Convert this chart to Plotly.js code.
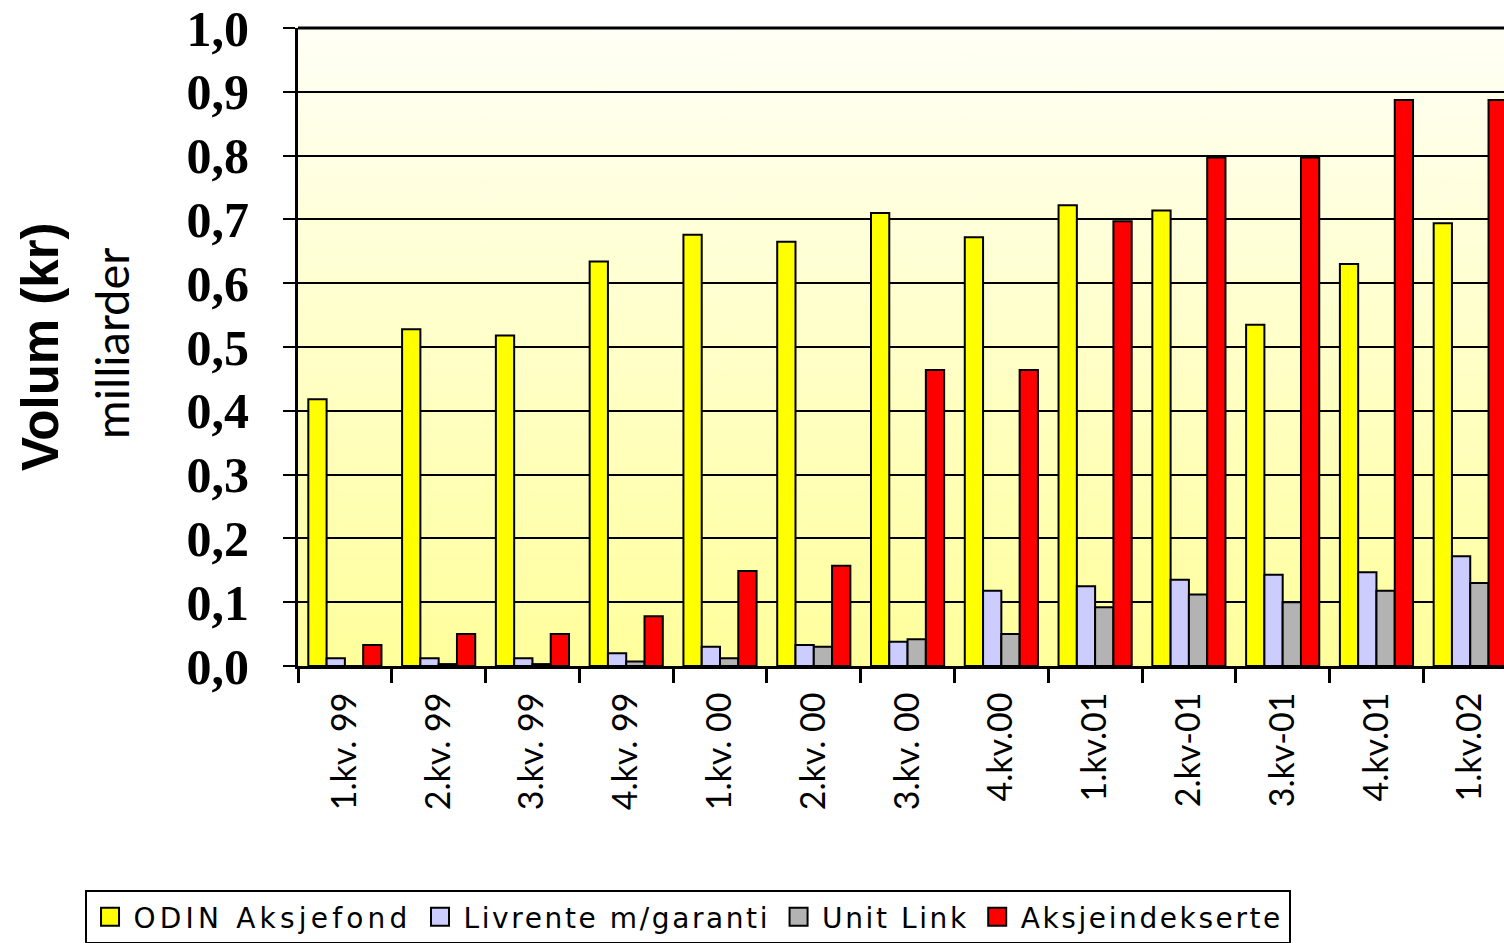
<!DOCTYPE html>
<html>
<head>
<meta charset="utf-8">
<script src="https://cdn.plot.ly/plotly-3.0.1.min.js"></script>
<style>html,body{margin:0;padding:0;background:#fff;}#chart{width:1504px;height:943px;}</style>
</head>
<body>
<div id="chart"></div>
<script>
var categories = ["1.kv. 99", "2.kv. 99", "3.kv. 99", "4.kv. 99", "1.kv. 00", "2.kv. 00", "3.kv. 00", "4.kv.00", "1.kv.01", "2.kv-01", "3.kv-01", "4.kv.01", "1.kv.02"];
var odin = [0.418, 0.528, 0.518, 0.634, 0.676, 0.665, 0.710, 0.672, 0.722, 0.714, 0.535, 0.630, 0.694];
var livrente = [0.012, 0.012, 0.012, 0.020, 0.030, 0.033, 0.038, 0.118, 0.125, 0.135, 0.143, 0.147, 0.172];
var unitLink = [0.000, 0.003, 0.003, 0.007, 0.012, 0.030, 0.042, 0.050, 0.092, 0.112, 0.100, 0.118, 0.130];
var aksjeindekserte = [0.033, 0.050, 0.050, 0.078, 0.149, 0.157, 0.464, 0.464, 0.697, 0.797, 0.797, 0.887, 0.887];
var seriesNames = ["ODIN Aksjefond", "Livrente m/garanti", "Unit Link", "Aksjeindekserte"];
var yTickVals = [0, 0.1, 0.2, 0.3, 0.4, 0.5, 0.6, 0.7, 0.8, 0.9, 1.0];

// background gradient image
var cv = document.createElement('canvas');
cv.width = 10; cv.height = 400;
var ctx = cv.getContext('2d');
var g = ctx.createLinearGradient(0, 0, 0, 400);
g.addColorStop(0, '#fffff6');
g.addColorStop(1, '#ffff9c');
ctx.fillStyle = g; ctx.fillRect(0, 0, 10, 400);
var bgUrl = cv.toDataURL();

var colors = ['#ffff00', '#ccccff', '#b3b3b3', '#ff0000'];
var spacing = ['4.2px', '2.6px', '2.6px', '2.6px'];
var vals = [odin, livrente, unitLink, aksjeindekserte];
var data = vals.map(function (v, i) {
  return {
    type: 'bar', x: categories, y: v,
    name: '<span style="letter-spacing:' + spacing[i] + '">' + seriesNames[i] + '</span>',
    marker: {color: colors[i], line: {color: '#000', width: 2}},
    hoverinfo: 'skip'
  };
});

var layout = {
  width: 1504, height: 943,
  margin: {l: 298, r: 0, t: 28, b: 277, pad: 0, autoexpand: false},
  paper_bgcolor: '#ffffff',
  plot_bgcolor: 'rgba(0,0,0,0)',
  barmode: 'group', bargap: 0.22, bargroupgap: 0,
  separators: ',.',
  images: [{source: bgUrl, xref: 'paper', yref: 'paper', x: 0, y: 1, sizex: 1, sizey: 1,
    sizing: 'stretch', xanchor: 'left', yanchor: 'top', layer: 'below'}],
  shapes: [{type: 'line', xref: 'paper', yref: 'paper', x0: 0, x1: 1, y0: 1, y1: 1,
    line: {color: '#000', width: 3}, layer: 'above'}],
  xaxis: {
    type: 'category', range: [-0.5, 12.36], fixedrange: true, automargin: false,
    showline: true, linecolor: '#000', linewidth: 3,
    ticks: 'outside', tickson: 'boundaries', ticklen: 14, tickwidth: 3, tickcolor: '#000',
    tickangle: -90, showgrid: false, ticklabelstandoff: 10,
    tickfont: {family: 'Lato, sans-serif', size: 34, color: '#000'}
  },
  yaxis: {
    range: [0, 1], fixedrange: true, tickvals: yTickVals, tickformat: '.1f', automargin: false,
    showline: true, linecolor: '#000', linewidth: 3,
    ticks: 'outside', ticklen: 12, tickwidth: 2, tickcolor: '#000',
    ticklabelstandoff: 24,
    showgrid: true, gridcolor: '#000', gridwidth: 2, zeroline: false,
    tickfont: {family: 'Liberation Serif, Times New Roman, serif', size: 50, color: '#000', weight: 'bold'}
  },
  showlegend: true,
  legend: {
    orientation: 'h', x: -0.177, xanchor: 'left', y: -0.351, yanchor: 'top',
    bordercolor: '#000', borderwidth: 2, bgcolor: '#fff',
    font: {family: 'DejaVu Sans, sans-serif', size: 28, color: '#000'},
    itemsizing: 'constant', tracegroupgap: 0, itemwidth: 37
  },
  annotations: [
    {text: '<b>Volum (kr)</b>', xref: 'paper', yref: 'paper', x: -0.214, y: 0.5, xanchor: 'center', yanchor: 'middle',
      textangle: -90, showarrow: false, font: {family: 'Liberation Sans, Arial, sans-serif', size: 51, color: '#000'}},
    {text: 'milliarder', xref: 'paper', yref: 'paper', x: -0.155, y: 0.505, xanchor: 'center', yanchor: 'middle',
      textangle: -90, showarrow: false, font: {family: 'Lato, sans-serif', size: 47, color: '#000'}}
  ]
};

Plotly.newPlot('chart', data, layout, {displayModeBar: false, staticPlot: true}).then(function (gd) {
  var paths = gd.querySelectorAll('.legend .legendpoints path');
  paths.forEach(function (p) { p.setAttribute('d', 'M9,9H-9V-9H9Z'); p.style.strokeWidth = '2px'; });
});
</script>
</body>
</html>
